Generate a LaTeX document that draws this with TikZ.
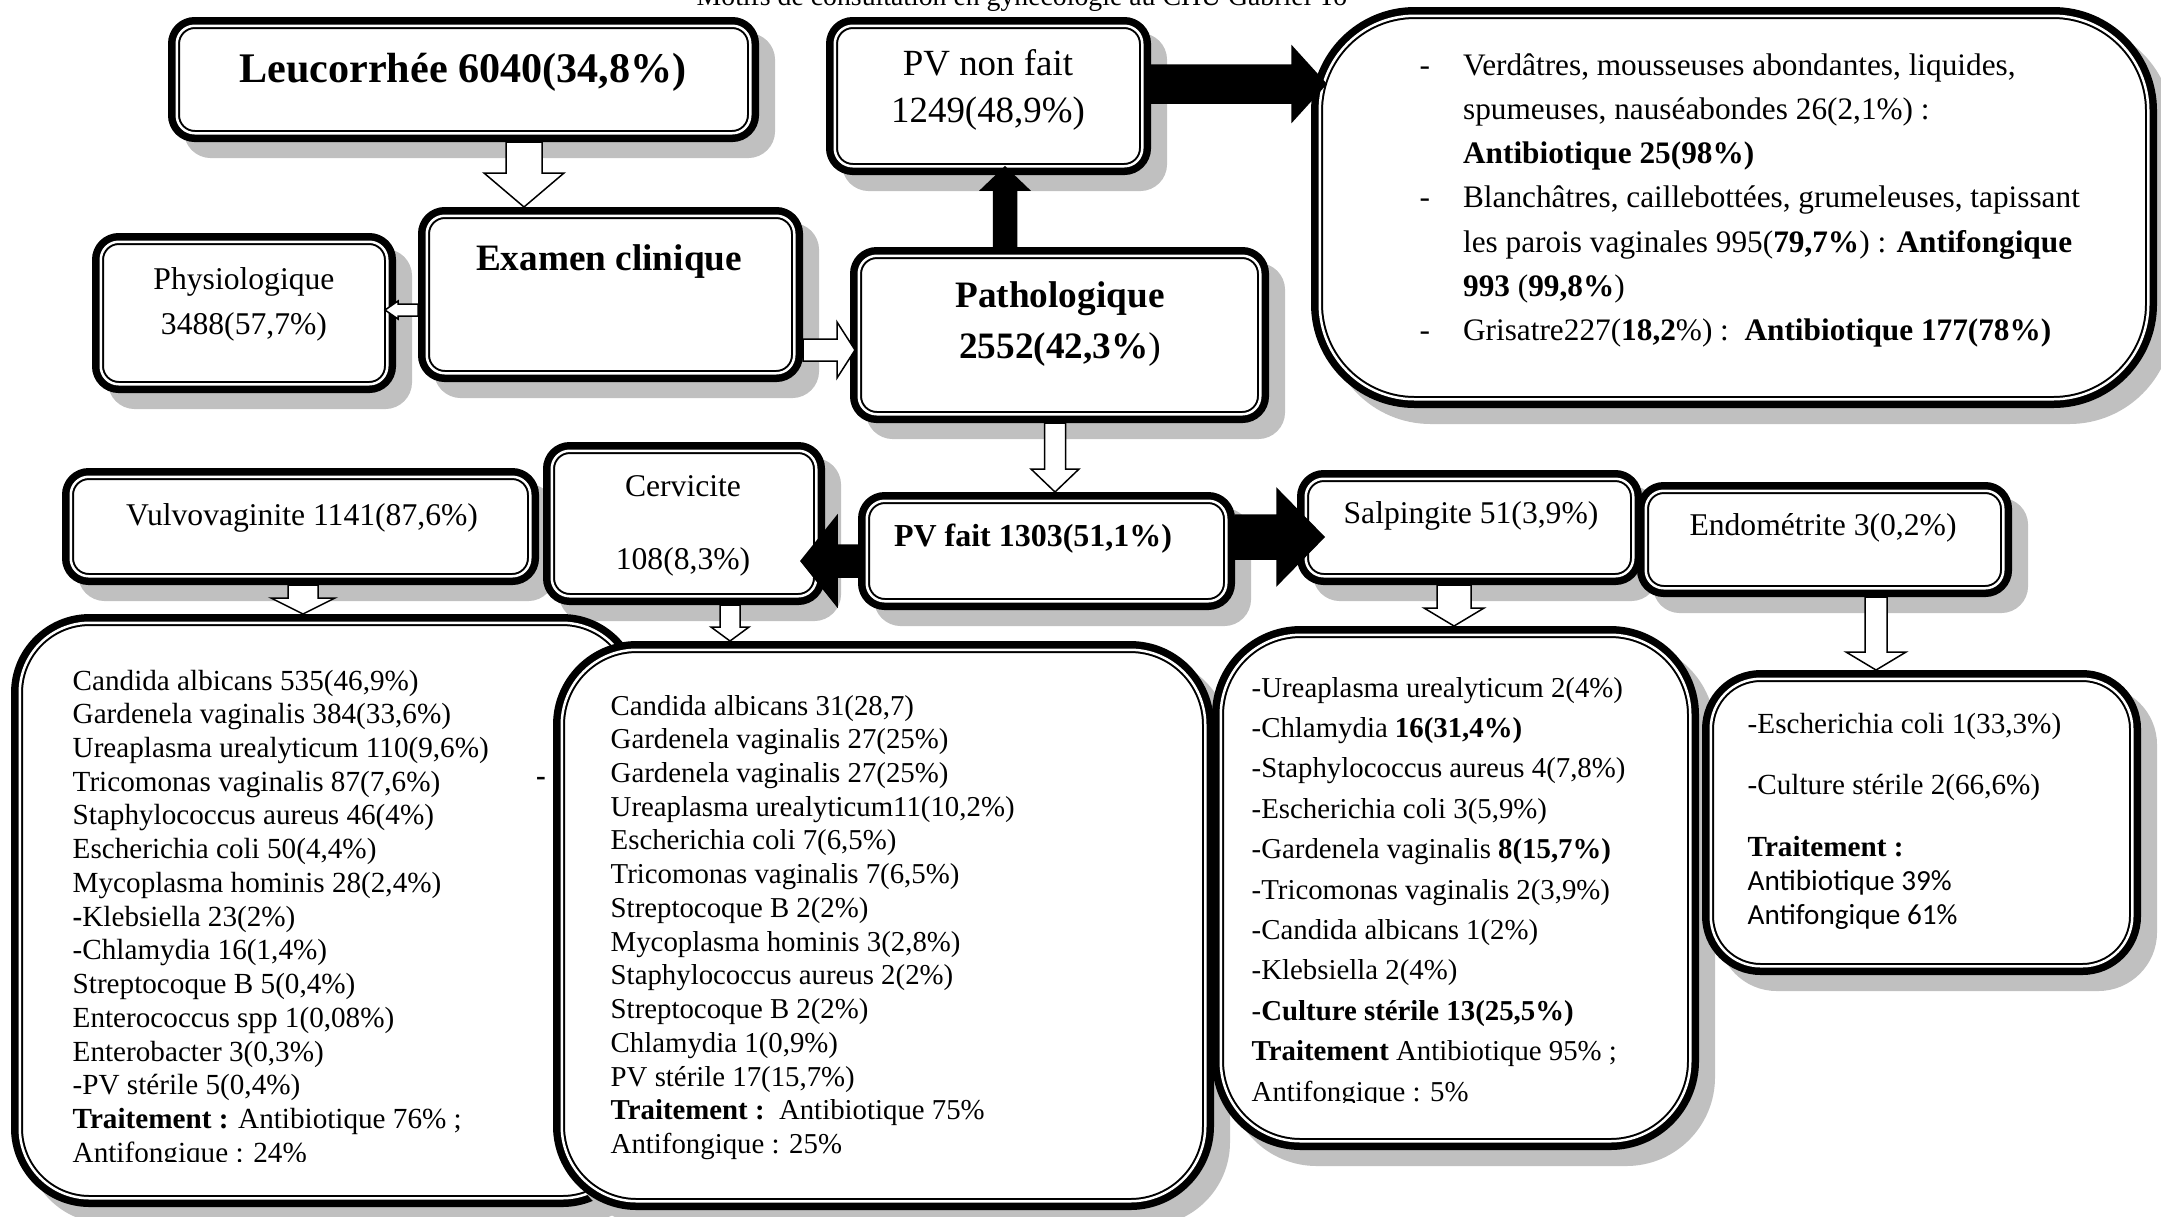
\documentclass[tikz,border=0pt]{standalone}
\usepackage{fontspec}
\setmainfont{Liberation Serif}
\newfontfamily\calibri{Carlito}
\usetikzlibrary{calc}
\definecolor{shadowgray}{HTML}{C0C0C0}

\tikzset{
  % double framed box with a grey shadow
  box/.style={rectangle, rounded corners=#1, inner sep=0pt, outer sep=0.875mm,
    preaction={fill=shadowgray, draw=shadowgray, line width=1.75mm,
      transform canvas={shift={(1.6mm,-1.6mm)}}},
    preaction={draw=black, line width=1.75mm},
    fill=white, draw=black, line width=0.65mm,
    postaction={draw=white, line width=0.25mm}},
  box/.default=1.8mm,
  lbl/.style={inner sep=0pt, align=center},
  list/.style={inner sep=0pt, anchor=base west},
  whitearrow/.style={fill=white, draw=black, line width=0.15mm, line join=miter},
  blackarrow/.style={fill=black, draw=black, line width=0.15mm, line join=miter},
  % block arrow: shaft half width, head half width, head length
  block/.style n args={3}{to path={
    ($(\tikztostart)!#1!90:(\tikztotarget)$) --
    ($(\tikztotarget)!#3!(\tikztostart)!#1!90:(\tikztotarget)$) --
    ($(\tikztotarget)!#3!(\tikztostart)!#2!90:(\tikztotarget)$) --
    (\tikztotarget) --
    ($(\tikztotarget)!#3!(\tikztostart)!#2!-90:(\tikztotarget)$) --
    ($(\tikztotarget)!#3!(\tikztostart)!#1!-90:(\tikztotarget)$) --
    ($(\tikztostart)!#1!-90:(\tikztotarget)$) -- cycle}},
}

\begin{document}
\begin{tikzpicture}[x=0.1mm, y=-0.1mm]
\useasboundingbox (0,0) rectangle (2161,1216);

% Title (cut by the page)
\node[list, font=\fontsize{7.9}{9}\selectfont] (title) at (696,5)
  {Motifs de consultation en gynécologie au CHU Gabriel To};

% Top row
\node[box, minimum width=57.35mm, minimum height=10.75mm] (leuc) at (463.5,79.5) {};
\node[box, minimum width=30.75mm, minimum height=14.05mm] (pvnon) at (988.5,96) {};
\node[box=9.5mm, minimum width=82.85mm, minimum height=38.35mm] (aspect) at (1734,207.5) {};

% Examen clinique row
\node[box, minimum width=36.75mm, minimum height=15.75mm] (exam) at (610.5,294.5) {};
\node[box, minimum width=28.65mm, minimum height=14.25mm] (physio) at (244,313) {};
\node[box, minimum width=40.15mm, minimum height=15.85mm] (patho) at (1059.5,335) {};

% PV fait row
\node[box, minimum width=45.95mm, minimum height=9.95mm] (vulvo) at (300.5,526.5) {};
\node[box, minimum width=26.45mm, minimum height=14.55mm] (cerv) at (684,523.5) {};
\node[box, minimum width=35.95mm, minimum height=10.05mm] (pvfait) at (1046.5,551) {};
\node[box, minimum width=32.75mm, minimum height=9.75mm] (salp) at (1469.5,527.5) {};
\node[box, minimum width=35.75mm, minimum height=9.75mm] (endo) at (1824.5,539.5) {};

% Results
\node[box=7mm, minimum width=61.25mm, minimum height=57.55mm] (vulvores) at (326,910.5) {};
\node[box=7.5mm, minimum width=64.35mm, minimum height=55.15mm] (cervres) at (883.5,925.5) {};
\node[box=8mm, minimum width=46.95mm, minimum height=50.65mm] (salpres) at (1455.5,888) {};
\node[box=5mm, minimum width=42.15mm, minimum height=28.75mm] (endores) at (1921.5,822.5) {};

% Arrows
\draw[whitearrow, block={1.8mm}{4mm}{3.4mm}] ([xshift=6.05mm]leuc.south) to ([xshift=-8.65mm]exam.north);
\draw[whitearrow, block={0.6mm}{0.9mm}{1.3mm}] ([yshift=-1.55mm]exam.west) to ([xshift=-1.1mm, yshift=0.3mm]physio.east);
\draw[whitearrow, block={1.1mm}{2.8mm}{1.8mm}] ([yshift=-5.55mm]exam.east) to ([xshift=0.5mm, yshift=-1.5mm]patho.west);
\draw[blackarrow, block={1.15mm}{2.4mm}{2.3mm}] ([xshift=-5.45mm]patho.north) to ([xshift=1.65mm, yshift=0.8mm]pvnon.south);
\draw[blackarrow, block={1.9mm}{3.75mm}{3.4mm}] ([yshift=1.2mm]pvnon.east) to ([xshift=1.5mm, yshift=12.35mm]aspect.west);
\draw[whitearrow, block={1.05mm}{2.4mm}{2.3mm}] ([xshift=-0.45mm]patho.south) to ([xshift=0.85mm]pvfait.north);
\draw[blackarrow, block={1.6mm}{4.5mm}{3.6mm}] ([yshift=-1mm]pvfait.west) to ([xshift=-2.4mm, yshift=-3.75mm]cerv.east);
\draw[blackarrow, block={2.2mm}{4.8mm}{4.7mm}] ([yshift=1.4mm]pvfait.east) to ([xshift=2.7mm, yshift=-0.95mm]salp.west);
\draw[whitearrow, block={1.5mm}{3.2mm}{1.6mm}] ([xshift=0.25mm]vulvo.south) to ([xshift=-2.3mm]vulvores.north);
\draw[whitearrow, block={1mm}{1.9mm}{1.4mm}] ([xshift=4.6mm]cerv.south) to ([xshift=-15.35mm]cervres.north);
\draw[whitearrow, block={1.7mm}{3mm}{1.8mm}] ([xshift=-1.55mm]salp.south) to ([xshift=-0.15mm]salpres.north);
\draw[whitearrow, block={1.1mm}{3mm}{1.8mm}] ([xshift=5.15mm]endo.south) to ([xshift=-4.55mm]endores.north);

% Texts in the boxes
\node[lbl, font=\fontsize{12}{14}\selectfont\bfseries] (leuct) at (463,72) {Leucorrhée 6040(34,8\%)};
\node[lbl, font=\fontsize{10.5}{13.3}\selectfont] (pvnont) at (988,90) {PV non fait\\1249(48,9\%)};
\node[lbl, font=\fontsize{10.6}{13}\selectfont\bfseries] (examt) at (609,262) {Examen clinique};
\node[lbl, font=\fontsize{9}{12.8}\selectfont] (physiot) at (244,304) {Physiologique\\3488(57,7\%)};
\node[lbl, font=\fontsize{10.6}{14.5}\selectfont\bfseries] (pathot) at (1060,324) {Pathologique\\2552(42,3\%\textmd{)}};
\node[lbl, font=\fontsize{9}{12.9}\selectfont] (vulvot) at (302,518) {Vulvovaginite 1141(87,6\%)};
\node[lbl, font=\fontsize{9}{12.9}\selectfont] (cervt) at (683,526) {Cervicite\\[7.7pt]108(8,3\%)};
\node[lbl, font=\fontsize{9.1}{11}\selectfont\bfseries] (pvfaitt) at (1033,539) {PV fait 1303(51,1\%)};
\node[lbl, font=\fontsize{9}{12.9}\selectfont] (salpt) at (1471,516) {Salpingite 51(3,9\%)};
\node[lbl, font=\fontsize{9}{12.9}\selectfont] (endot) at (1823,528) {Endométrite 3(0,2\%)};

% Aspects of the discharge
\node[list, font=\fontsize{8.9}{12.6}\selectfont] (aspectt) at (1419,75) {\begin{tabular}[t]{@{}l@{\hspace{3.3mm}}l@{}}
- & Verdâtres, mousseuses abondantes, liquides,\\
  & spumeuses, nauséabondes 26(2,1\%) :\\
  & \textbf{Antibiotique 25(98\%)}\\
- & Blanchâtres, caillebottées, grumeleuses, tapissant\\
  & les parois vaginales 995(\textbf{79,7\%}) : \textbf{Antifongique}\\
  & \textbf{993} (\textbf{99,8\%})\\
- & Grisatre227(\textbf{18,2}\%) :\ \ \textbf{Antibiotique 177(78\%)}
\end{tabular}};

% Vulvovaginite list
\begin{scope}
\clip (0,0) rectangle (2161,1161);
\node[list, font=\fontsize{8.3}{9.6}\selectfont] (vulvolist) at (72,690) {\begin{tabular}[t]{@{}l@{}}
Candida albicans 535(46,9\%)\\
Gardenela vaginalis 384(33,6\%)\\
Ureaplasma urealyticum 110(9,6\%)\\
Tricomonas vaginalis 87(7,6\%)\\
Staphylococcus aureus 46(4\%)\\
Escherichia coli 50(4,4\%)\\
Mycoplasma hominis 28(2,4\%)\\
\textbf{-}Klebsiella 23(2\%)\\
-Chlamydia 16(1,4\%)\\
Streptocoque B 5(0,4\%)\\
Enterococcus spp 1(0,08\%)\\
Enterobacter 3(0,3\%)\\
-PV stérile 5(0,4\%)\\
\textbf{Traitement :} Antibiotique 76\% ;\\
Antifongique : 24\%
\end{tabular}};
\end{scope}
\node[lbl, font=\fontsize{8.3}{9.6}\selectfont\bfseries] (dash) at (541,781) {-};

% Cervicite list
\node[list, font=\fontsize{8.2}{9.6}\selectfont] (cervlist) at (610,715) {\begin{tabular}[t]{@{}l@{}}
Candida albicans 31(28,7)\\
Gardenela vaginalis 27(25\%)\\
Gardenela vaginalis 27(25\%)\\
Ureaplasma urealyticum11(10,2\%)\\
Escherichia coli 7(6,5\%)\\
Tricomonas vaginalis 7(6,5\%)\\
Streptocoque B 2(2\%)\\
Mycoplasma hominis 3(2,8\%)\\
Staphylococcus aureus 2(2\%)\\
Streptocoque B 2(2\%)\\
Chlamydia 1(0,9\%)\\
PV stérile 17(15,7\%)\\
\textbf{Traitement :}\ \ Antibiotique 75\%\\
Antifongique : 25\%
\end{tabular}};

% Salpingite list
\begin{scope}
\clip (0,0) rectangle (2161,1102);
\node[list, font=\fontsize{8.2}{11.5}\selectfont] (salplist) at (1251,697) {\begin{tabular}[t]{@{}l@{}}
-Ureaplasma urealyticum 2(4\%)\\
-Chlamydia \textbf{16(31,4\%)}\\
-Staphylococcus aureus 4(7,8\%)\\
-Escherichia coli 3(5,9\%)\\
-Gardenela vaginalis \textbf{8(15,7\%)}\\
-Tricomonas vaginalis 2(3,9\%)\\
-Candida albicans 1(2\%)\\
-Klebsiella 2(4\%)\\
-\textbf{Culture stérile 13(25,5\%)}\\
\textbf{Traitement} Antibiotique 95\% ;\\
Antifongique : 5\%
\end{tabular}};
\end{scope}

% Endometrite list
\node[list, font=\fontsize{8.3}{9.6}\selectfont] (endolist) at (1747,733) {\begin{tabular}[t]{@{}l@{}}
-Escherichia coli 1(33,3\%)\\[8pt]
-Culture stérile 2(66,6\%)\\[8pt]
\textbf{Traitement :}\\
{\calibri Antibiotique 39\%}\\
{\calibri Antifongique 61\%}
\end{tabular}};

\end{tikzpicture}
\end{document}
